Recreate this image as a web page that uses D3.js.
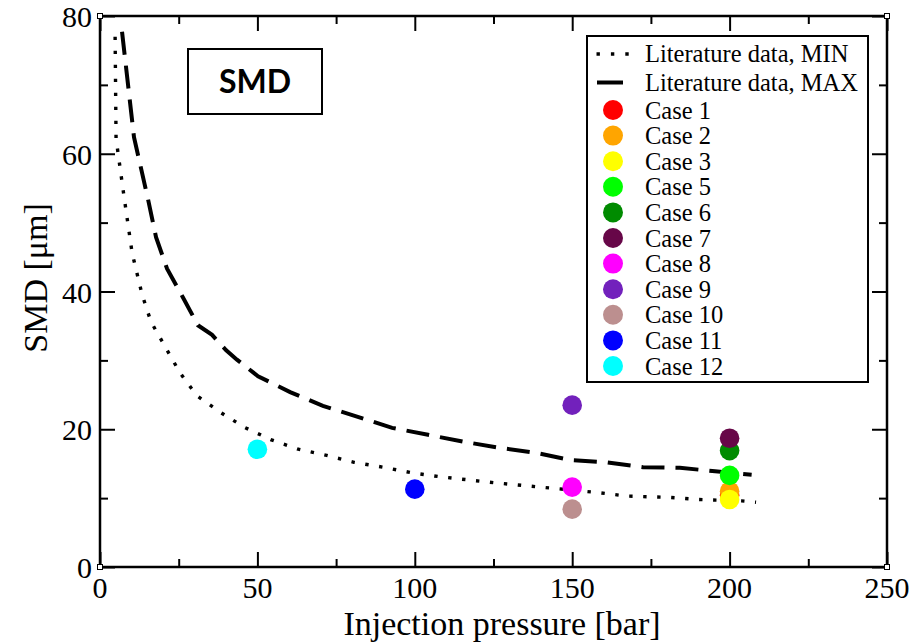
<!DOCTYPE html>
<html>
<head>
<meta charset="utf-8">
<script src="https://cdn.jsdelivr.net/npm/d3@7"></script>
<style>
  html, body { margin: 0; padding: 0; background: #fff; }
  svg { display: block; }
</style>
</head>
<body>
<div id="chart"></div>
<script>
// Literature curves (pressure [bar], SMD [um])
const litMin = [
  [4.8, 77.0], [5.1, 62.2], [7.6, 53.9], [10.2, 45.6], [13.4, 39.5], [16.2, 35.6],
  [25.4, 28.2], [30.7, 24.9], [38.1, 22.5], [45.8, 20.3], [54.2, 18.5], [63.0, 17.1],
  [72.0, 16.2], [80.7, 15.2], [89.8, 14.5], [98.8, 13.7], [108.0, 13.1], [126.0, 12.2],
  [144.5, 11.4], [158.3, 10.8], [167.3, 10.3], [181.1, 10.1], [190.1, 9.8], [203.8, 9.6],
  [208.4, 9.4]
];
const litMax = [
  [7.0, 77.7], [10.8, 62.4], [15.3, 53.3], [17.8, 47.9], [21.3, 43.3], [26.4, 39.1],
  [31.1, 35.1], [35.6, 33.7], [40.0, 31.5], [43.5, 30.1], [50.2, 27.7], [60.4, 25.4],
  [70.8, 23.4], [81.9, 21.8], [92.8, 20.2], [104.2, 19.2], [115.3, 18.2], [127.1, 17.3],
  [138.2, 16.6], [149.9, 15.5], [161.1, 15.2], [172.5, 14.5], [184.2, 14.4], [195.4, 13.9],
  [207.0, 13.4]
];

// Measured cases
const caseNames    = ['Case 1', 'Case 2', 'Case 3', 'Case 5', 'Case 6', 'Case 7', 'Case 8', 'Case 9', 'Case 10', 'Case 11', 'Case 12'];
const casePressure = [200, 200, 200, 200, 200, 200, 150, 150, 150, 100, 50];
const caseSMD      = [10.4, 11.0, 9.8, 13.3, 16.9, 18.7, 11.6, 23.5, 8.4, 11.3, 17.1];
const caseColors   = ['#ff0000', '#ffa500', '#ffff00', '#00ff00', '#008b00', '#670748', '#ff00ff', '#7221bc', '#bc8f8f', '#0000ff', '#00ffff'];

const xMajor = [0, 50, 100, 150, 200, 250];
const xMinor = [25, 75, 125, 175, 225];
const yMajor = [0, 20, 40, 60, 80];
const yMinor = [10, 30, 50, 70];

(function () {
  const W = 924, H = 644;
  const pL = 100, pR = 887, pT = 16, pB = 567;
  const serif = "'Liberation Serif', 'Times New Roman', serif";

  const svg = d3.select('#chart').append('svg').attr('width', W).attr('height', H);
  svg.append('rect').attr('width', W).attr('height', H).attr('fill', '#fff');

  const x = d3.scaleLinear().domain([0, 250]).range([pL, pR]);
  const y = d3.scaleLinear().domain([0, 80]).range([pB, pT]);

  // ticks on all four sides, pointing inward
  function ticks(axisFn, scale, vals, size, tr) {
    const g = svg.append('g').attr('transform', tr)
      .call(axisFn(scale).tickValues(vals).tickSize(-size).tickFormat(''));
    g.select('.domain').remove();
    g.selectAll('line').attr('stroke', '#000').attr('stroke-width', 2);
  }
  ticks(d3.axisBottom, x, xMajor, 15, `translate(0,${pB})`);
  ticks(d3.axisBottom, x, xMinor, 8, `translate(0,${pB})`);
  ticks(d3.axisTop, x, xMajor, 15, `translate(0,${pT})`);
  ticks(d3.axisTop, x, xMinor, 8, `translate(0,${pT})`);
  ticks(d3.axisLeft, y, yMajor, 15, `translate(${pL},0)`);
  ticks(d3.axisLeft, y, yMinor, 8, `translate(${pL},0)`);
  ticks(d3.axisRight, y, yMajor, 15, `translate(${pR},0)`);
  ticks(d3.axisRight, y, yMinor, 8, `translate(${pR},0)`);

  // frame
  svg.append('rect').attr('x', pL).attr('y', pT)
    .attr('width', pR - pL).attr('height', pB - pT)
    .attr('fill', 'none').attr('stroke', '#000').attr('stroke-width', 2.5);
  [[pL, pT], [pR, pT], [pL, pB], [pR, pB]].forEach(c => {
    svg.append('rect').attr('x', c[0] - 2.5).attr('y', c[1] - 2.5).attr('width', 5).attr('height', 5)
      .attr('fill', '#fff').attr('stroke', '#000').attr('stroke-width', 1);
  });

  // tick labels
  svg.selectAll('.xl').data(xMajor).enter().append('text')
    .attr('x', d => x(d)).attr('y', 598).attr('text-anchor', 'middle')
    .style('font-family', serif).style('font-size', '30px').text(d => d);
  svg.selectAll('.yl').data(yMajor).enter().append('text')
    .attr('x', 92).attr('y', d => y(d) + 11).attr('text-anchor', 'end')
    .style('font-family', serif).style('font-size', '30px').text(d => d);

  // axis titles
  svg.append('text').attr('x', 502).attr('y', 635).attr('text-anchor', 'middle')
    .style('font-family', serif).style('font-size', '34px').text('Injection pressure [bar]');
  svg.append('text').attr('transform', 'translate(47,278) rotate(-90)').attr('text-anchor', 'middle')
    .style('font-family', serif).style('font-size', '34px').text('SMD [\u03bcm]');

  // literature curves
  const line = d3.line().x(d => x(d[0])).y(d => y(d[1]));
  svg.append('path').datum(litMin).attr('d', line).attr('fill', 'none')
    .attr('stroke', '#000').attr('stroke-width', 3.4).attr('stroke-dasharray', '3.4 10.6');
  svg.append('path').datum(litMax).attr('d', line).attr('fill', 'none')
    .attr('stroke', '#000').attr('stroke-width', 4).attr('stroke-dasharray', '23 11');

  // case points
  svg.selectAll('.pt').data(caseNames).enter().append('circle')
    .attr('cx', (d, i) => x(casePressure[i])).attr('cy', (d, i) => y(caseSMD[i]))
    .attr('r', 9.8).attr('fill', (d, i) => caseColors[i]);

  // SMD label box
  svg.append('rect').attr('x', 188).attr('y', 49).attr('width', 134).attr('height', 65)
    .attr('fill', '#fff').attr('stroke', '#000').attr('stroke-width', 2);
  svg.append('text').attr('x', 255).attr('y', 93).attr('text-anchor', 'middle')
    .style('font-family', "Lato, 'Open Sans', sans-serif").style('font-weight', 700)
    .style('font-size', '32px').text('SMD');

  // legend
  const lg = svg.append('g');
  lg.append('rect').attr('x', 587).attr('y', 36).attr('width', 281).attr('height', 346)
    .attr('fill', '#fff').attr('stroke', '#000').attr('stroke-width', 2);
  const lgText = (ty, s) => lg.append('text').attr('x', 645).attr('y', ty + 8.5)
    .style('font-family', serif).style('font-size', '24.5px').text(s);
  lg.append('line').attr('x1', 596.5).attr('x2', 630).attr('y1', 54).attr('y2', 54)
    .attr('stroke', '#000').attr('stroke-width', 3.4).attr('stroke-dasharray', '3.4 11');
  lgText(53, 'Literature data, MIN');
  lg.append('line').attr('x1', 597).attr('x2', 623).attr('y1', 82.5).attr('y2', 82.5)
    .attr('stroke', '#000').attr('stroke-width', 4);
  lgText(82, 'Literature data, MAX');
  caseNames.forEach((name, i) => {
    const cy = 110 + i * 25.6;
    lg.append('circle').attr('cx', 613).attr('cy', cy).attr('r', 10).attr('fill', caseColors[i]);
    lgText(cy, name);
  });
})();
</script>
</body>
</html>
